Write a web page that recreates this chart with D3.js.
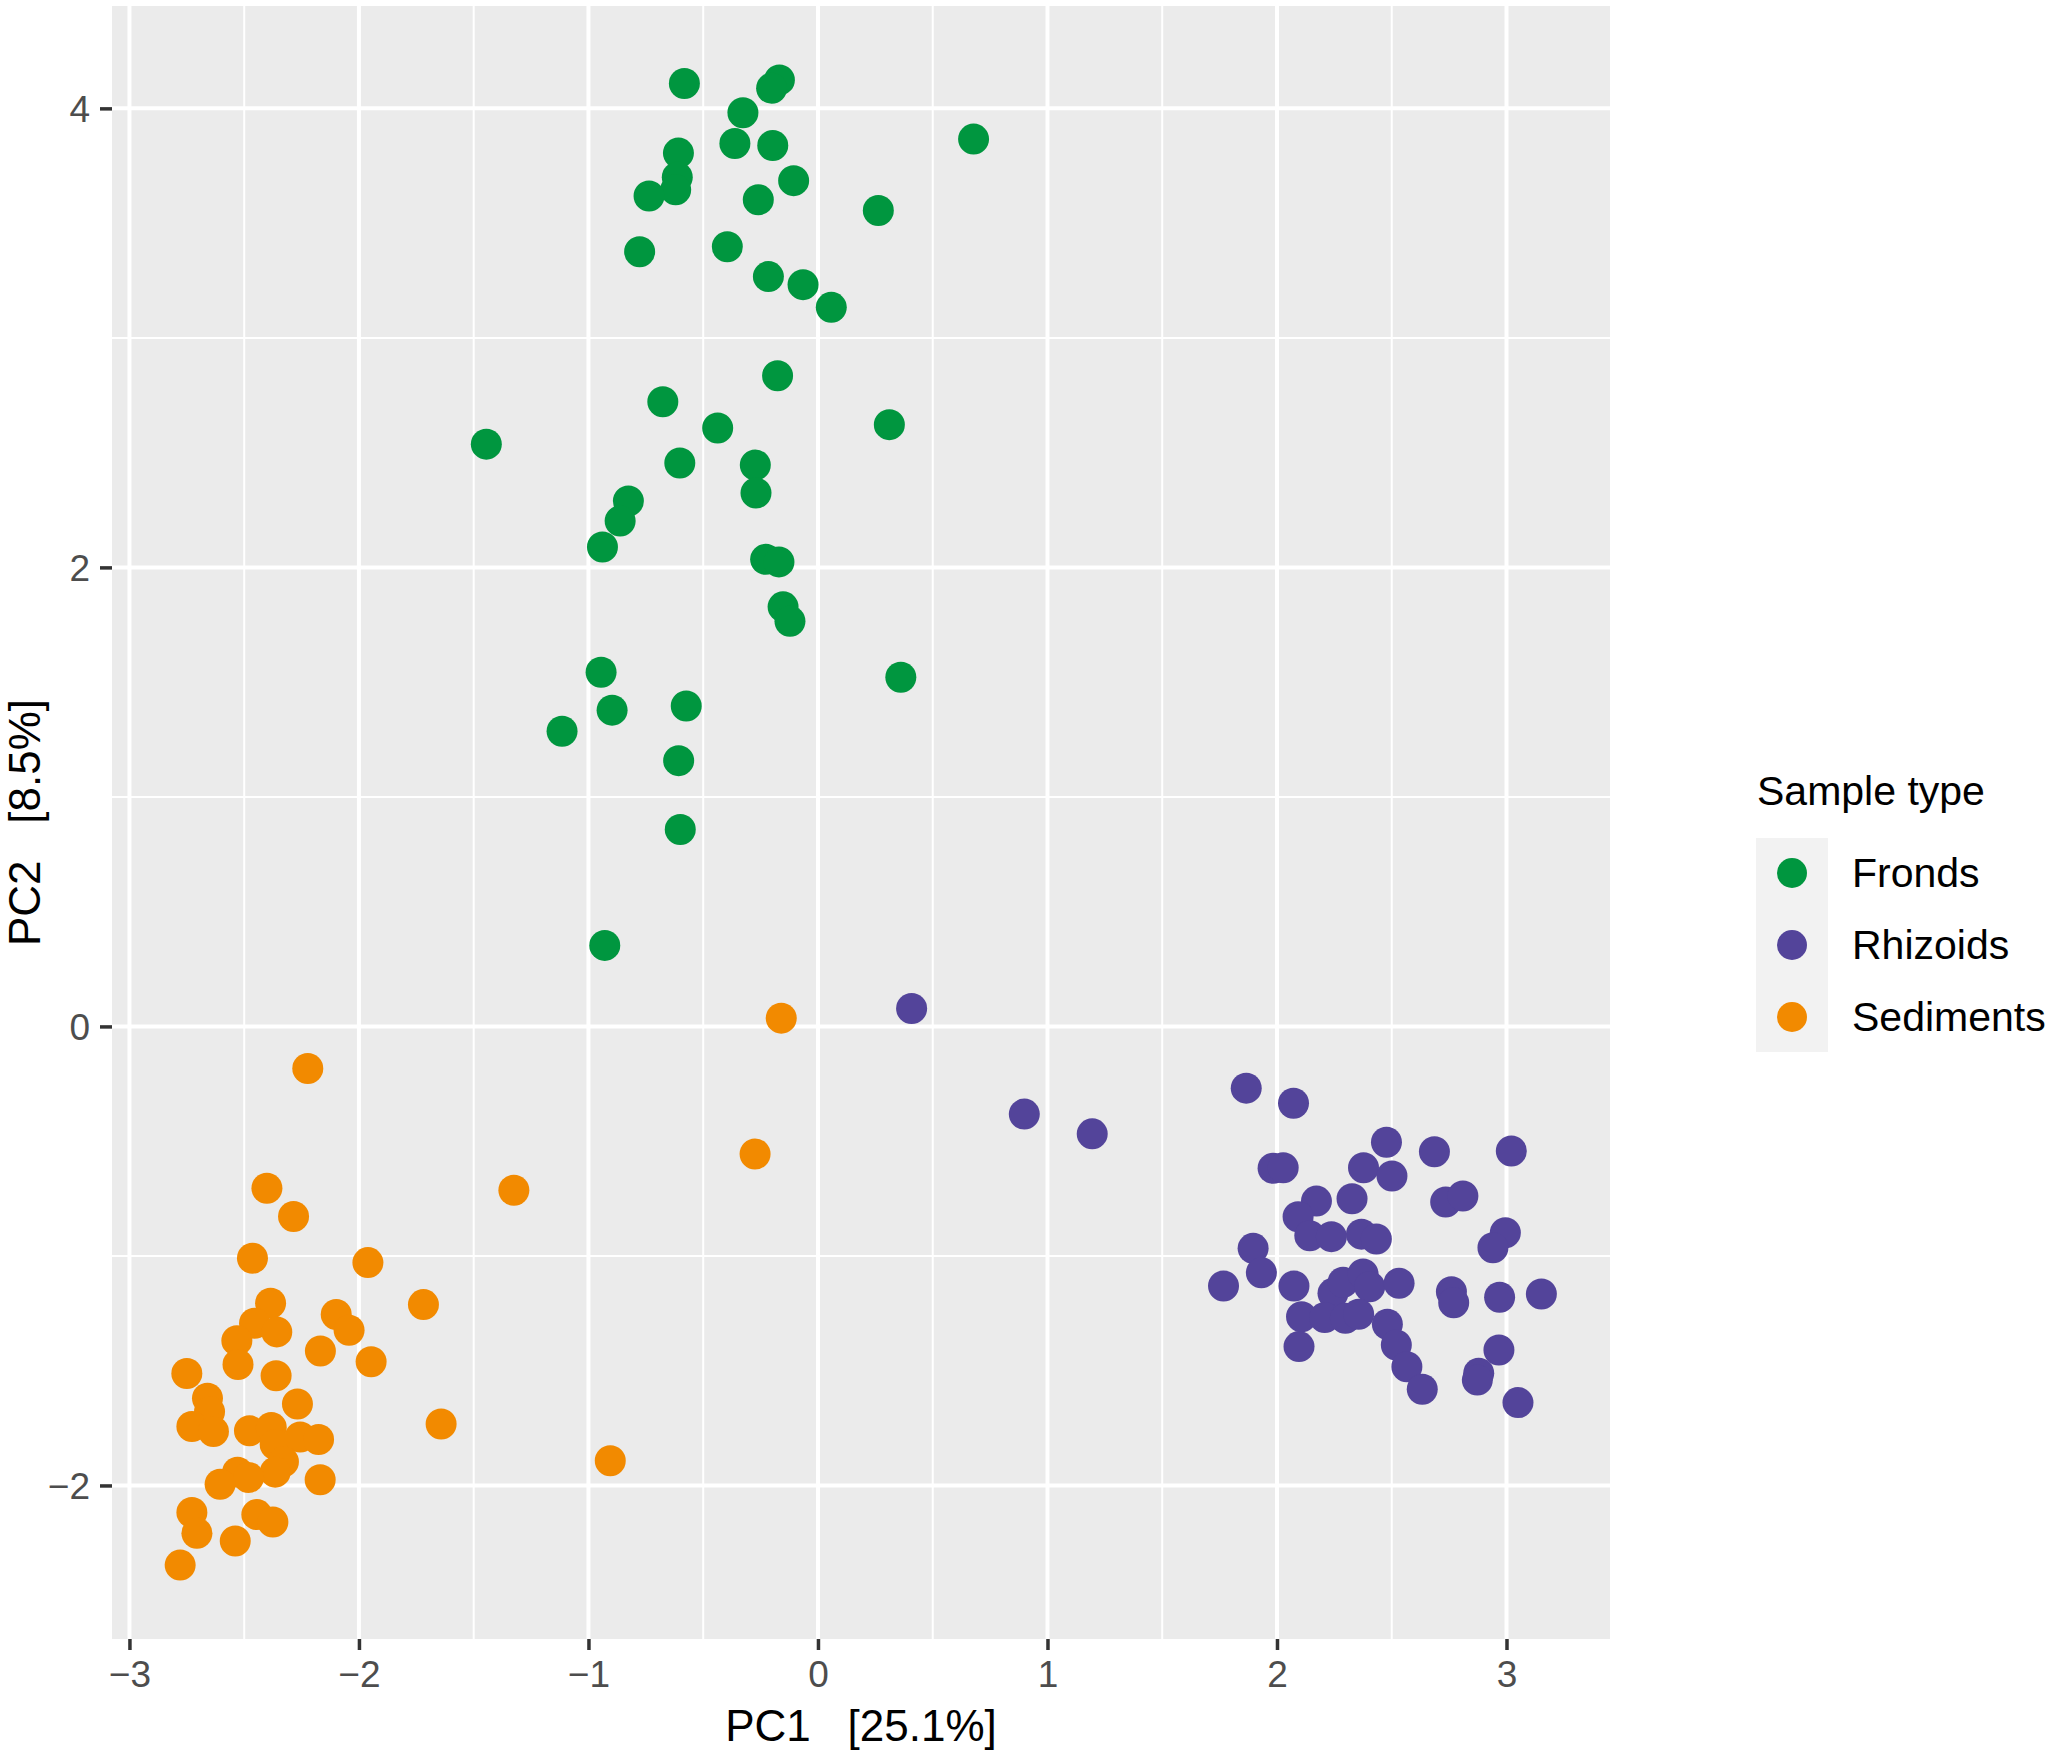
<!DOCTYPE html>
<html>
<head>
<meta charset="utf-8">
<script src="https://cdn.jsdelivr.net/npm/d3@7"></script>
<style>
  body { margin: 0; background: #fff; }
  text { font-family: "Liberation Sans", Arial, Helvetica, sans-serif; }
</style>
</head>
<body>
<div id="container"></div>
<script>
// sample groups and their colours
var categories = ["Fronds", "Rhizoids", "Sediments"];
var colours = ["#00963F", "#53449A", "#F28A00"];

// PC1 / PC2 scores
var frondsPC1 = [-0.582, -0.168, -0.202, -0.327, -0.362, -0.197, -0.608, 0.678, -0.613, -0.620,
                 -0.736, -0.260, -0.106, 0.263, -0.395, -0.777, -0.216, -0.065, 0.058, -0.176,
                 -0.676, -0.437, 0.311, -1.445, -0.602, -0.273, -0.270, -0.826, -0.862, -0.939,
                 -0.228, -0.170, -0.152, -0.122, 0.361, -0.945, -0.897, -0.574, -1.115, -0.607,
                 -0.600, -0.929];
var frondsPC2 = [4.108, 4.124, 4.088, 3.981, 3.847, 3.838, 3.805, 3.866, 3.700, 3.645,
                 3.618, 3.602, 3.685, 3.555, 3.397, 3.375, 3.267, 3.232, 3.133, 2.835,
                 2.722, 2.607, 2.622, 2.537, 2.455, 2.446, 2.324, 2.289, 2.202, 2.089,
                 2.035, 2.024, 1.828, 1.765, 1.521, 1.543, 1.378, 1.396, 1.286, 1.158,
                 0.858, 0.353];

var rhizoidsPC1 = [0.408, 0.899, 1.195, 1.866, 2.072, 2.477, 2.686, 3.021, 1.983, 2.027,
                   2.377, 2.501, 2.172, 2.327, 2.735, 2.810, 2.092, 2.143, 2.237, 2.368,
                   2.433, 2.995, 2.941, 1.896, 1.932, 1.767, 2.074, 2.244, 2.288, 2.375,
                   2.404, 2.532, 2.760, 2.770, 2.970, 3.152, 2.107, 2.208, 2.298, 2.356,
                   2.481, 2.520, 2.096, 2.967, 2.566, 2.879, 2.873, 2.633, 3.050];
var rhizoidsPC2 = [0.078, -0.382, -0.468, -0.269, -0.335, -0.505, -0.546, -0.543, -0.618, -0.616,
                   -0.616, -0.652, -0.761, -0.751, -0.765, -0.739, -0.829, -0.912, -0.916, -0.905,
                   -0.926, -0.899, -0.964, -0.967, -1.073, -1.131, -1.131, -1.163, -1.115, -1.079,
                   -1.134, -1.119, -1.156, -1.204, -1.180, -1.166, -1.265, -1.268, -1.272, -1.254,
                   -1.298, -1.388, -1.395, -1.410, -1.483, -1.511, -1.541, -1.581, -1.639];

var sedimentsPC1 = [-0.160, -0.274, -2.223, -2.401, -2.285, -1.325, -2.464, -1.961, -1.719, -2.385,
                    -2.455, -2.358, -2.099, -2.043, -2.532, -2.168, -1.947, -2.527, -2.750, -2.361,
                    -2.660, -2.268, -2.651, -2.728, -2.634, -1.642, -2.477, -2.382, -2.365, -2.256,
                    -2.176, -2.329, -2.365, -0.905, -2.529, -2.481, -2.605, -2.169, -2.728, -2.445,
                    -2.375, -2.706, -2.539, -2.779];
var sedimentsPC2 = [0.036, -0.556, -0.183, -0.705, -0.828, -0.714, -1.010, -1.029, -1.212, -1.206,
                    -1.293, -1.331, -1.255, -1.324, -1.369, -1.414, -1.461, -1.473, -1.512, -1.522,
                    -1.620, -1.645, -1.679, -1.743, -1.765, -1.732, -1.762, -1.747, -1.822, -1.789,
                    -1.800, -1.897, -1.942, -1.892, -1.942, -1.965, -1.995, -1.975, -2.118, -2.127,
                    -2.159, -2.208, -2.242, -2.347];

// axis ticks
var xTicks = [-3, -2, -1, 0, 1, 2, 3];
var yTicks = [-2, 0, 2, 4];
var xMinor = [-2.5, -1.5, -0.5, 0.5, 1.5, 2.5];
var yMinor = [-1, 1, 3];

var xTitle = "PC1   [25.1%]";
var yTitle = "PC2   [8.5%]";
var legendTitle = "Sample type";

var W = 2051, H = 1756;
var panel = {left: 112, right: 1610, top: 6, bottom: 1639};

var svg = d3.select("#container").append("svg")
    .attr("width", W)
    .attr("height", H);

var x = d3.scaleLinear().domain([-3.076, 3.451]).range([panel.left, panel.right]);
var y = d3.scaleLinear().domain([-2.669, 4.446]).range([panel.bottom, panel.top]);

// grey panel
svg.append("rect")
    .attr("x", panel.left)
    .attr("y", panel.top)
    .attr("width", panel.right - panel.left)
    .attr("height", panel.bottom - panel.top)
    .attr("fill", "#EBEBEB");

// grid lines, minor first then major
var grid = svg.append("g");
function vLines(vals, w) {
    grid.selectAll(null).data(vals).enter().append("line")
        .attr("x1", d => x(d)).attr("x2", d => x(d))
        .attr("y1", panel.top).attr("y2", panel.bottom)
        .attr("stroke", "#fff").attr("stroke-width", w);
}
function hLines(vals, w) {
    grid.selectAll(null).data(vals).enter().append("line")
        .attr("y1", d => y(d)).attr("y2", d => y(d))
        .attr("x1", panel.left).attr("x2", panel.right)
        .attr("stroke", "#fff").attr("stroke-width", w);
}
vLines(xMinor, 2);
hLines(yMinor, 2);
vLines(xTicks, 4);
hLines(yTicks, 4);

// points
var groups = [
    {name: categories[0], pc1: frondsPC1, pc2: frondsPC2, colour: colours[0]},
    {name: categories[1], pc1: rhizoidsPC1, pc2: rhizoidsPC2, colour: colours[1]},
    {name: categories[2], pc1: sedimentsPC1, pc2: sedimentsPC2, colour: colours[2]}
];
groups.forEach(function(g) {
    svg.append("g").selectAll("circle")
        .data(g.pc1.map((v, i) => [v, g.pc2[i]]))
        .enter().append("circle")
        .attr("cx", d => x(d[0]))
        .attr("cy", d => y(d[1]))
        .attr("r", 15.5)
        .attr("fill", g.colour);
});

// axes
var xAxis = svg.append("g")
    .attr("transform", "translate(0," + panel.bottom + ")")
    .call(d3.axisBottom(x).tickValues(xTicks).tickSize(11).tickPadding(11).tickFormat(d3.format("d")));
var yAxis = svg.append("g")
    .attr("transform", "translate(" + panel.left + ",0)")
    .call(d3.axisLeft(y).tickValues(yTicks).tickSize(12).tickPadding(10).tickFormat(d3.format("d")));

[xAxis, yAxis].forEach(function(a) {
    a.select(".domain").remove();
    a.selectAll(".tick line").attr("stroke", "#333333").attr("stroke-width", 3.5);
    a.selectAll(".tick text")
        .attr("fill", "#4D4D4D")
        .style("font-size", "37px")
        .style("font-family", "'Liberation Sans', Arial, sans-serif");
});
yAxis.selectAll(".tick text").attr("dy", "0.36em");

// axis titles
svg.append("text")
    .attr("x", (panel.left + panel.right) / 2)
    .attr("y", 1741)
    .attr("text-anchor", "middle")
    .style("font-size", "44px")
    .style("white-space", "pre")
    .attr("fill", "#000")
    .text(xTitle);

svg.append("text")
    .attr("transform", "translate(40," + ((panel.top + panel.bottom) / 2) + ") rotate(-90)")
    .attr("text-anchor", "middle")
    .style("font-size", "44px")
    .style("white-space", "pre")
    .attr("fill", "#000")
    .text(yTitle);

// legend
var legend = svg.append("g");
legend.append("text")
    .attr("x", 1757)
    .attr("y", 805)
    .style("font-size", "41px")
    .attr("fill", "#000")
    .text(legendTitle);

legend.append("rect")
    .attr("x", 1756)
    .attr("y", 838)
    .attr("width", 72)
    .attr("height", 214)
    .attr("fill", "#F2F2F2");

var keyY = d3.scalePoint().domain(categories).range([873, 1017]);
legend.selectAll("circle").data(categories).enter().append("circle")
    .attr("cx", 1792)
    .attr("cy", d => keyY(d))
    .attr("r", 15)
    .attr("fill", (d, i) => colours[i]);

legend.selectAll("text.lab").data(categories).enter().append("text")
    .attr("class", "lab")
    .attr("x", 1852)
    .attr("y", d => keyY(d) + 14)
    .style("font-size", "41px")
    .attr("fill", "#000")
    .text(d => d);
</script>
</body>
</html>
